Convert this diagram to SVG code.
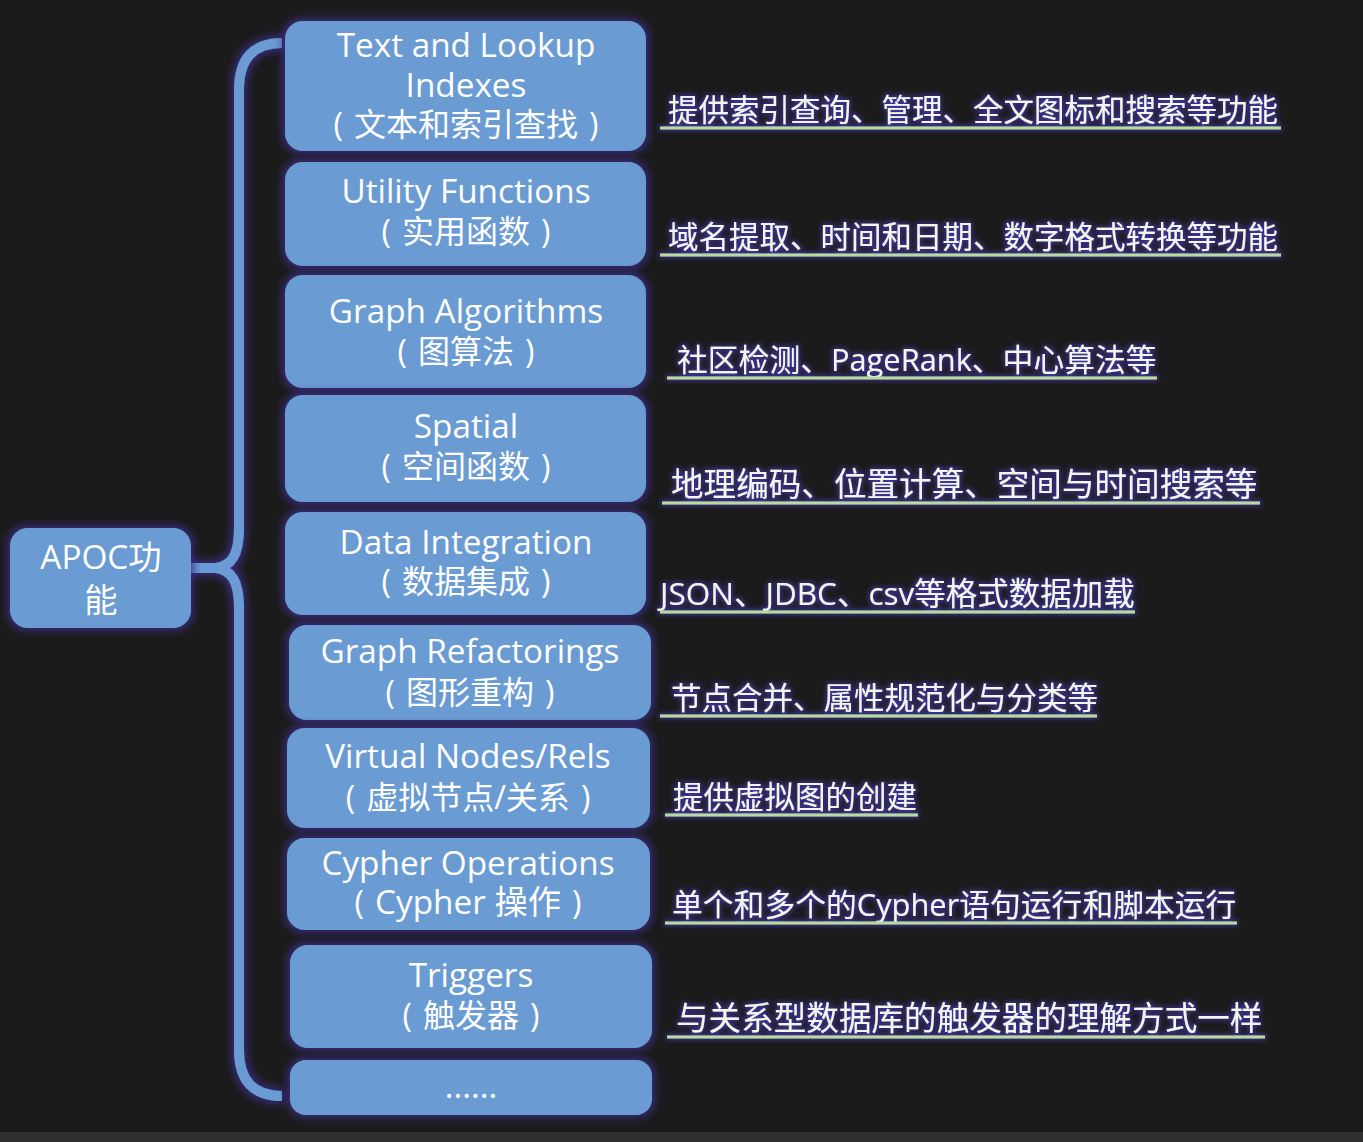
<svg xmlns="http://www.w3.org/2000/svg" width="1363" height="1142" viewBox="0 0 1363 1142">
<defs>
<filter id="boxglow" x="-10%" y="-20%" width="120%" height="140%">
<feMorphology in="SourceAlpha" operator="dilate" radius="2" result="d"/>
<feGaussianBlur in="d" stdDeviation="4" result="b"/>
<feFlood flood-color="#3b2d88"/>
<feComposite in2="b" operator="in" result="g"/>
<feMerge><feMergeNode in="g"/><feMergeNode in="SourceGraphic"/></feMerge>
</filter>
<filter id="txtglow" x="-5%" y="-30%" width="110%" height="160%">
<feMorphology in="SourceAlpha" operator="dilate" radius="1" result="d"/>
<feGaussianBlur in="d" stdDeviation="2.5" result="b"/>
<feFlood flood-color="#4333a0"/>
<feComposite in2="b" operator="in" result="g"/>
<feMerge><feMergeNode in="g"/><feMergeNode in="SourceGraphic"/></feMerge>
</filter>
<style>
.box{fill:#6a9bd3;filter:url(#boxglow);}
.bt{font-family:"Open Sans","Noto Sans CJK SC",sans-serif;font-size:33.3px;fill:#ffffff;text-anchor:middle;}
.bc{font-family:"Open Sans","Noto Sans CJK SC",sans-serif;font-size:32px;fill:#ffffff;text-anchor:middle;}
.lbl{font-family:"Open Sans","Noto Sans CJK SC",sans-serif;font-size:30.5px;fill:#f2f7ec;}
.big{font-size:32.6px;}
.ul{stroke:#b9d9a2;stroke-width:3;}
.lab{filter:url(#txtglow);}
.brace{fill:none;stroke:#6a9bd3;stroke-width:10;stroke-linecap:butt;}
</style>
</defs>
<rect x="0" y="0" width="1363" height="1142" fill="#1b1b1b"/>
<rect x="0" y="1132" width="1363" height="10" fill="#2f2f2f"/>

<g id="connectors" filter="url(#boxglow)">
<path class="brace" d="M282,43 Q239,43 239,90 L239,528 C239,554 232,566 216,568"/>
<path class="brace" d="M216,568 C232,570 239,582 239,608 L239,1050 Q239,1096 282,1096"/>
<path class="brace" stroke-width="14" d="M186,568 L222,568"/>
</g>

<g id="apoc">
<rect class="box" x="10" y="528" width="181" height="100" rx="18"/>
<text class="bt" x="101" y="569">APOC功</text>
<text class="bt" x="101" y="612">能</text>
</g>

<g id="n1">
<rect class="box" x="285" y="21" width="361" height="130" rx="18"/>
<text class="bt" x="466" y="57">Text and Lookup</text>
<text class="bt" x="466" y="97">Indexes</text>
<text class="bc" x="466" y="136">(<tspan dx="11">文本和索引查找</tspan><tspan dx="11">)</tspan></text>
</g>
<g id="n2">
<rect class="box" x="285" y="162" width="361" height="104" rx="18"/>
<text class="bt" x="466" y="203">Utility Functions</text>
<text class="bc" x="466" y="243">(<tspan dx="11">实用函数</tspan><tspan dx="11">)</tspan></text>
</g>
<g id="n3">
<rect class="box" x="285" y="275" width="361" height="113" rx="18"/>
<text class="bt" x="466" y="323">Graph Algorithms</text>
<text class="bc" x="466" y="363">(<tspan dx="11">图算法</tspan><tspan dx="11">)</tspan></text>
</g>
<g id="n4">
<rect class="box" x="285" y="395" width="361" height="107" rx="18"/>
<text class="bt" x="466" y="438">Spatial</text>
<text class="bc" x="466" y="478">(<tspan dx="11">空间函数</tspan><tspan dx="11">)</tspan></text>
</g>
<g id="n5">
<rect class="box" x="285" y="512" width="361" height="103" rx="18"/>
<text class="bt" x="466" y="554">Data Integration</text>
<text class="bc" x="466" y="593">(<tspan dx="11">数据集成</tspan><tspan dx="11">)</tspan></text>
</g>
<g id="n6">
<rect class="box" x="289" y="625" width="362" height="95" rx="18"/>
<text class="bt" x="470" y="663">Graph Refactorings</text>
<text class="bc" x="470" y="704">(<tspan dx="11">图形重构</tspan><tspan dx="11">)</tspan></text>
</g>
<g id="n7">
<rect class="box" x="287" y="728" width="363" height="100" rx="18"/>
<text class="bt" x="468" y="768">Virtual Nodes/Rels</text>
<text class="bc" x="468" y="809">(<tspan dx="11">虚拟节点/关系</tspan><tspan dx="11">)</tspan></text>
</g>
<g id="n8">
<rect class="box" x="287" y="838" width="363" height="92" rx="18"/>
<text class="bt" x="468" y="875">Cypher Operations</text>
<text class="bc" x="468" y="914">(<tspan dx="11" style="font-size:33.3px">Cypher 操作</tspan><tspan dx="11">)</tspan></text>
</g>
<g id="n9">
<rect class="box" x="290" y="945" width="362" height="103" rx="18"/>
<text class="bt" x="471" y="987">Triggers</text>
<text class="bc" x="471" y="1027">(<tspan dx="11">触发器</tspan><tspan dx="11">)</tspan></text>
</g>
<g id="n10">
<rect class="box" x="290" y="1060" width="362" height="55" rx="16"/>
<text class="bt" x="471" y="1098">......</text>
</g>

<g id="l1" class="lab">
<text class="lbl" x="668" y="121">提供索引查询、管理、全文图标和搜索等功能</text>
<line class="ul" x1="660" y1="128" x2="1281" y2="128"/>
</g>
<g id="l2" class="lab">
<text class="lbl" x="668" y="248">域名提取、时间和日期、数字格式转换等功能</text>
<line class="ul" x1="660" y1="255" x2="1281" y2="255"/>
</g>
<g id="l3" class="lab">
<text class="lbl" x="677" y="371" style="font-size:30.8px">社区检测、PageRank、中心算法等</text>
<line class="ul" x1="667" y1="378" x2="1157" y2="378"/>
</g>
<g id="l4" class="lab">
<text class="lbl big" x="671" y="496">地理编码、位置计算、空间与时间搜索等</text>
<line class="ul" x1="662" y1="503" x2="1260" y2="503"/>
</g>
<g id="l5" class="lab">
<text class="lbl" x="660" y="605" style="font-size:31.5px">JSON、JDBC、csv等格式数据加载</text>
<line class="ul" x1="660" y1="612" x2="1135" y2="612"/>
</g>
<g id="l6" class="lab">
<text class="lbl" x="671" y="709">节点合并、属性规范化与分类等</text>
<line class="ul" x1="660" y1="716" x2="1097" y2="716"/>
</g>
<g id="l7" class="lab">
<text class="lbl" x="673" y="808">提供虚拟图的创建</text>
<line class="ul" x1="665" y1="815" x2="918" y2="815"/>
</g>
<g id="l8" class="lab">
<text class="lbl" x="672" y="916" style="font-size:30.8px">单个和多个的Cypher语句运行和脚本运行</text>
<line class="ul" x1="665" y1="923" x2="1237" y2="923"/>
</g>
<g id="l9" class="lab">
<text class="lbl big" x="676" y="1030">与关系型数据库的触发器的理解方式一样</text>
<line class="ul" x1="667" y1="1037" x2="1265" y2="1037"/>
</g>
</svg>
